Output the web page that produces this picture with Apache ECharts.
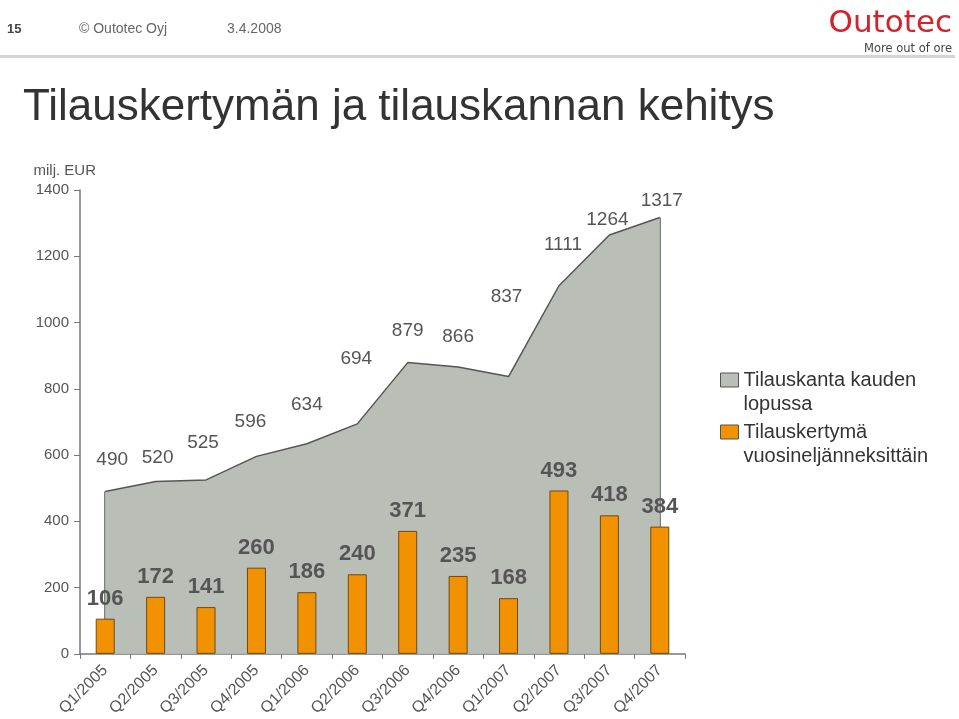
<!DOCTYPE html>
<html>
<head>
<meta charset="utf-8">
<script src="https://cdn.jsdelivr.net/npm/echarts@6/dist/echarts.min.js"></script>
<style>
html,body{margin:0;padding:0;background:#fff;}
#c{width:959px;height:719px;}
</style>
</head>
<body>
<div id="c"></div>
<script>
const categories = ['Q1/2005','Q2/2005','Q3/2005','Q4/2005','Q1/2006','Q2/2006','Q3/2006','Q4/2006','Q1/2007','Q2/2007','Q3/2007','Q4/2007'];
const backlog = [490, 520, 525, 596, 634, 694, 879, 866, 837, 1111, 1264, 1317];
const orders = [106, 172, 141, 260, 186, 240, 371, 235, 168, 493, 418, 384];
const yTicks = [0, 200, 400, 600, 800, 1000, 1200, 1400];
const seriesNames = ['Tilauskanta kauden lopussa', 'Tilauskertymä vuosineljänneksittäin'];
const legendText = {
  'Tilauskanta kauden lopussa': ' \nTilauskanta kauden\nlopussa',
  'Tilauskertymä vuosineljänneksittäin': ' \nTilauskertymä\nvuosineljänneksittäin'
};

// label nudges (style only, pixels) for the backlog value labels
const backlogLabelNudge = [[7, 2], [2, 10], [-3, -4], [-6, -1], [0, -5], [-1, -32], [0, 2], [0, 3], [-2, -46], [4, -7], [-2, 18], [2, 17]];

const FONT = 'Liberation Sans, Arial, Helvetica, sans-serif';
const chart = echarts.init(document.getElementById('c'));
const last = categories.length - 1;

chart.setOption({
  backgroundColor: '#ffffff',
  textStyle: { fontFamily: FONT },
  animation: false,
  title: [
    { text: 'Tilauskertymän ja tilauskannan kehitys', left: 18, top: 81,
      textStyle: { fontSize: 44, fontWeight: 'normal', color: '#333333', fontFamily: FONT } },
    { text: '15', left: 2, top: 18, textStyle: { fontSize: 13, fontWeight: 'bold', color: '#444', fontFamily: FONT } },
    { text: '© Outotec Oyj', left: 74, top: 17, textStyle: { fontSize: 14, fontWeight: 'normal', color: '#666', fontFamily: FONT } },
    { text: '3.4.2008', left: 222, top: 17, textStyle: { fontSize: 14, fontWeight: 'normal', color: '#666', fontFamily: FONT } },
    { text: 'Outotec', right: 2, top: 3, textStyle: { fontSize: 31, fontWeight: 'normal', color: '#d3222a', fontFamily: 'DejaVu Sans, sans-serif' } },
    { text: 'More out of ore', right: 2, top: 38, textStyle: { fontSize: 11.5, fontWeight: 'normal', color: '#444', fontFamily: 'DejaVu Sans, sans-serif' } }
  ],
  graphic: [
    { type: 'rect', shape: { x: 0, y: 55, width: 955, height: 3 }, style: { fill: '#d4d4d4' } }
  ],
  legend: {
    orient: 'vertical',
    left: 720,
    top: 344,
    padding: 0,
    itemGap: -20,
    itemWidth: 18,
    itemHeight: 14,
    data: [
      { name: seriesNames[0], icon: 'rect', itemStyle: { color: '#b9beb6', borderColor: '#555', borderWidth: 1 } },
      { name: seriesNames[1], icon: 'rect', itemStyle: { color: '#f39200', borderColor: '#555', borderWidth: 1 } }
    ],
    formatter: n => legendText[n],
    textStyle: { fontSize: 20, lineHeight: 24, color: '#333', fontFamily: FONT }
  },
  grid: { left: 80, right: 274, top: 190, bottom: 65 },
  xAxis: {
    type: 'category',
    data: categories,
    boundaryGap: true,
    axisLine: { lineStyle: { color: '#777', width: 1.5 } },
    axisTick: { show: true, length: 5, lineStyle: { color: '#777' }, inside: false },
    axisLabel: { rotate: 45, fontSize: 16, color: '#555', margin: 14, fontFamily: FONT },
    splitLine: { show: false }
  },
  yAxis: {
    type: 'value',
    min: yTicks[0],
    max: yTicks[yTicks.length - 1],
    interval: yTicks[1] - yTicks[0],
    name: 'milj. EUR',
    nameLocation: 'end',
    nameGap: 12,
    nameTextStyle: { fontSize: 15, color: '#555', align: 'right', padding: [0, -16, 0, 0], fontFamily: FONT },
    axisLine: { show: true, lineStyle: { color: '#777', width: 1.5 } },
    axisTick: { show: true, length: 6, lineStyle: { color: '#777' } },
    axisLabel: { fontSize: 15, color: '#555', margin: 11, fontFamily: FONT, formatter: v => String(v) },
    splitLine: { show: false }
  },
  series: [
    {
      name: seriesNames[0],
      type: 'line',
      data: backlog.map((v, i) => ({ value: v, label: { offset: backlogLabelNudge[i] } })),
      showSymbol: true,
      symbol: 'circle',
      symbolSize: 0.1,
      lineStyle: { color: '#555', width: 1.5 },
      itemStyle: { color: '#b9beb6' },
      areaStyle: { color: '#b9beb6', opacity: 1 },
      label: { show: true, position: 'top', distance: 24, fontSize: 19, color: '#555', fontFamily: FONT },
      markLine: {
        silent: true,
        z: 1,
        symbol: 'none',
        label: { show: false },
        lineStyle: { color: '#555', width: 1.5, type: 'solid' },
        data: [
          [{ coord: [categories[0], 0] }, { coord: [categories[0], backlog[0]] }],
          [{ coord: [categories[last], 0] }, { coord: [categories[last], backlog[last]] }]
        ]
      },
      z: 1
    },
    {
      name: seriesNames[1],
      type: 'bar',
      data: orders,
      barWidth: 19,
      itemStyle: { color: '#f39200', borderColor: '#6b4a1a', borderWidth: 1 },
      label: { show: true, position: 'top', distance: 9, fontSize: 22, fontWeight: 'bold', color: '#555', fontFamily: FONT },
      z: 3
    }
  ]
});
</script>
</body>
</html>
